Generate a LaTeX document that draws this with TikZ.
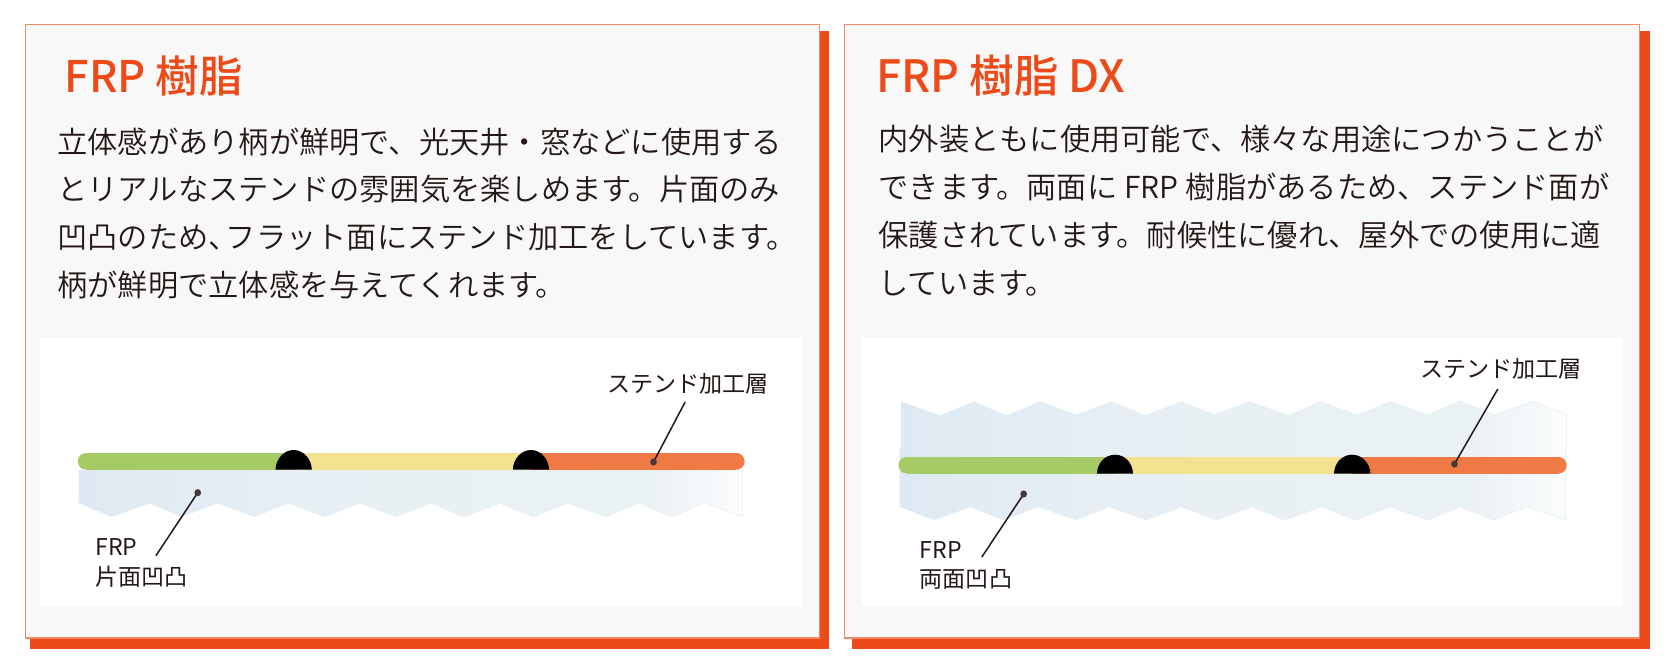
\documentclass[tikz,border=0pt]{standalone}
\usepackage{fontspec}
\setmainfont{Noto Sans CJK JP}
\newfontfamily\bodyfont{Noto Sans CJK JP DemiLight}
\newfontfamily\labelfont{Noto Sans CJK JP}
\newfontfamily\titlefont{Noto Sans CJK JP Medium}
\definecolor{accent}{HTML}{EC4A18}
\definecolor{cardedge}{HTML}{F28B68}
\definecolor{cardfill}{HTML}{F8F8F8}
\definecolor{inkc}{HTML}{231815}
\definecolor{barg}{HTML}{A5CA66}
\definecolor{bary}{HTML}{F5E290}
\definecolor{baro}{HTML}{F07A45}
\definecolor{frpedge}{HTML}{E2EDF2}
\definecolor{frpa}{HTML}{DFE9F3}
\definecolor{frpb}{HTML}{E7EFF4}
\definecolor{frpc}{HTML}{EBF2F4}
\definecolor{frpd}{HTML}{FBFCFD}
\pgfdeclarehorizontalshading{frpshade}{100bp}{
  color(0bp)=(frpa); color(25bp)=(frpa); color(42bp)=(frpb); color(68bp)=(frpc); color(75bp)=(frpd); color(100bp)=(frpd)}
\tikzset{
  x=1pt,y=-1pt,
  shadowbox/.style={fill=accent,draw=none},
  cardbox/.style={fill=cardfill,draw=cardedge,line width=1.1pt},
  panelbox/.style={fill=white,draw=none},
  frplayer/.style={shading=frpshade,draw=frpedge,line width=.5pt},
  bump/.style={fill=black,draw=none},
  titletext/.style={anchor=base west,inner sep=0pt,outer sep=0pt,text=accent,font=\titlefont\fontsize{44.5}{44.5}\selectfont},
  bodytext/.style={anchor=base west,inner sep=0pt,outer sep=0pt,text=inkc,font=\bodyfont\fontsize{30.25}{30.25}\selectfont},
  labeltext/.style={anchor=base west,inner sep=0pt,outer sep=0pt,text=inkc,font=\labelfont\fontsize{23.1}{23.1}\selectfont},
  leader/.style={draw=inkc,line width=1.5pt},
  leaderdot/.style={fill=inkc!85!white,draw=none},
}
\XeTeXlinebreaklocale "ja"
\XeTeXlinebreakskip=0pt plus 4pt minus 4pt
\newcommand{\fitl}[2]{\hbox to #1pt{#2}}
\begin{document}
\begin{tikzpicture}
\useasboundingbox (0,0) rectangle (1674,672);
% ---------- left card
\begin{scope}[xscale=.98875]
\fill[shadowbox] (30,31) rectangle (838,649);
\path[cardbox] (26,24.5) rectangle (829,638);
\fill[panelbox] (40.6,337) rectangle (811,606);
\node[titletext,font=\titlefont\fontsize{43.5}{43.5}\selectfont] (t1) at (65.5,92) {FRP 樹脂};
\node[bodytext] (b11) at (58,153) {\fitl{721}{立体感があり柄が鮮明で、光天井・窓などに使用する}};
\node[bodytext] (b12) at (58,200.5) {\fitl{721}{とリアルなステンドの雰囲気を楽しめます。片面のみ}};
\node[bodytext] (b13) at (58,248.5) {\fitl{720}{凹凸のため、\kern-13pt フラット面にステンド加工をしています。}};
\node[bodytext] (b14) at (58,296.5) {柄が鮮明で立体感を与えてくれます。};
\path[frplayer] (79.7,470) -- (79.7,503)
  -- (113,516.7) -- (151,503) -- (184,516.7) -- (219.5,503) -- (257.5,516.7)
  -- (291,503) -- (328.5,516.7) -- (364,503) -- (400.5,516.7) -- (436,503)
  -- (469,516.7) -- (506,503) -- (539,516.7) -- (574.5,503) -- (613,516.7)
  -- (646,503) -- (679,516.7) -- (712.7,503) -- (751,516.7) -- (751,470) -- cycle;
\fill[barg] (87,461.35) circle[radius=8.35];
\fill[barg] (87,453) rectangle (297,469.7);
\fill[bary] (297,453) rectangle (537,469.7);
\fill[baro] (744.7,461.35) circle[radius=8.35];
\fill[baro] (537,453) rectangle (744.7,469.7);
\fill[bump] (278.6,469.7) .. controls (279,459) and (287,450) .. (297,450) .. controls (307,450) and (315,459) .. (315.4,469.7) -- cycle;
\fill[bump] (518.7,469.7) .. controls (519,459) and (527,450) .. (537,450) .. controls (547,450) and (555,459) .. (555.3,469.7) -- cycle;
\node[labeltext] (l11) at (614,392.5) {ステンド加工層};
\node[labeltext] (l12) at (96.5,555) {FRP};
\node[labeltext] (l13) at (96.5,585.5) {片面凹凸};
\coordinate (s11) at (693,402);
\coordinate (d11) at (661,462);
\coordinate (s12) at (157.7,555.7);
\coordinate (d12) at (200,492.7);
\draw[leader] (s11) -- (d11);
\fill[leaderdot] (d11) ellipse[x radius=3.4,y radius=3.6];
\draw[leader] (s12) -- (d12);
\fill[leaderdot] (d12) ellipse[x radius=3.4,y radius=3.6];
\end{scope}
% ---------- right card
\begin{scope}[xshift=834pt,xscale=.98875,xshift=-834pt]
\fill[shadowbox] (852.4,31) rectangle (1659.5,649);
\path[cardbox] (845,24.5) rectangle (1648.6,638);
\fill[panelbox] (861,337) rectangle (1632,606);
\node[titletext] (t2) at (877,92) {FRP 樹脂 DX};
\node[bodytext] (b21) at (879,150.5) {\fitl{720}{内外装ともに使用可能で、様々な用途につかうことが}};
\node[bodytext] (b22) at (879,198.5) {\fitl{724}{できます。両面に\kern7pt FRP\kern7pt 樹脂があるため、ステンド面が}};
\node[bodytext] (b23) at (879,246.5) {\fitl{720}{保護されています。耐候性に優れ、屋外での使用に適}};
\node[bodytext] (b24) at (879,294.5) {しています。};
\path[frplayer] (902,401.7)
  -- (940.8,415.7) -- (975.5,401.7) -- (1008.5,415.7) -- (1042.7,401.7) -- (1079.5,415) -- (1114.8,401.7)
  -- (1148.9,415.7) -- (1185.2,401.7) -- (1218.8,415) -- (1254,401.7) -- (1294,415.7) -- (1325.6,401.7)
  -- (1363.5,415) -- (1396.6,401.7) -- (1434,415) -- (1467,401) -- (1501.8,415) -- (1540.8,401)
  -- (1575,415) -- (1575,448) -- (1574,448) -- (1574,506.7)
  -- (1574,520) -- (1535,506.7) -- (1500.7,520) -- (1467,506.7) -- (1434,520) -- (1396.6,506.7)
  -- (1361.4,520) -- (1327,506.7) -- (1289.8,520) -- (1256.8,506.7) -- (1221.5,520) -- (1184.7,506.7)
  -- (1150,520) -- (1112,506.7) -- (1078.5,520) -- (1040.7,506.7) -- (1005.3,520) -- (972.2,506.7)
  -- (935.4,520) -- (900.7,506.7) -- (900.7,448) -- (902,448) -- cycle;
\fill[barg] (907.4,465.25) circle[radius=8.25];
\fill[barg] (907.4,457) rectangle (1118,473.5);
\fill[bary] (1118,457) rectangle (1358,473.5);
\fill[baro] (1566.8,465.25) circle[radius=8.25];
\fill[baro] (1358,457) rectangle (1566.8,473.5);
\fill[bump] (1100,473.5) .. controls (1100.4,463) and (1108,454.7) .. (1118.2,454.7) .. controls (1128.4,454.7) and (1136,463) .. (1136.4,473.5) -- cycle;
\fill[bump] (1339.7,473.5) .. controls (1340,463) and (1348,454.7) .. (1358,454.7) .. controls (1368,454.7) and (1376,463) .. (1376.5,473.5) -- cycle;
\node[labeltext] (l21) at (1427,377.5) {ステンド加工層};
\node[labeltext] (l22) at (920.7,558) {FRP};
\node[labeltext] (l23) at (920.7,587.5) {両面凹凸};
\coordinate (s21) at (1505.5,389);
\coordinate (d21) at (1461.6,464);
\coordinate (s22) at (983.6,557);
\coordinate (d22) at (1025.9,494);
\draw[leader] (s21) -- (d21);
\fill[leaderdot] (d21) ellipse[x radius=3.4,y radius=3.6];
\draw[leader] (s22) -- (d22);
\fill[leaderdot] (d22) ellipse[x radius=3.4,y radius=3.6];
\end{scope}
\end{tikzpicture}
\end{document}
